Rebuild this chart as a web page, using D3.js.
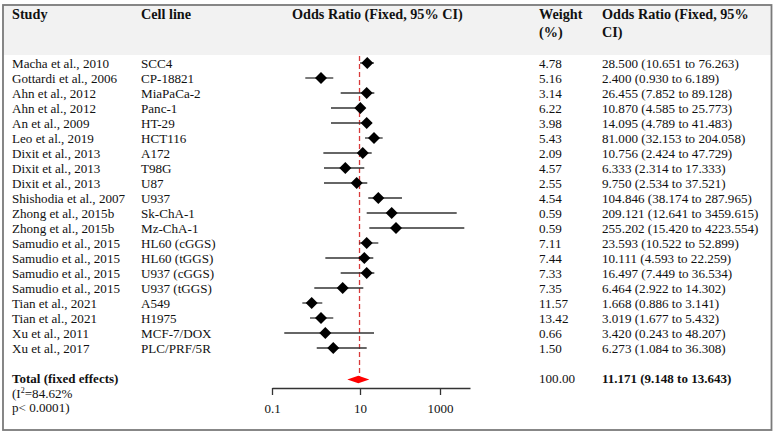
<!DOCTYPE html>
<html>
<head>
<meta charset="utf-8">
<script src="https://cdn.jsdelivr.net/npm/d3@7"></script>
<style>
  body { margin: 0; background: #fff; }
  svg text { font-family: "Liberation Serif", "Times New Roman", serif; fill: #111; }
</style>
</head>
<body>
<div id="wrapper"></div>
<script>
const studies = ["Macha et al., 2010", "Gottardi et al., 2006", "Ahn et al., 2012", "Ahn et al., 2012",
  "An et al., 2009", "Leo et al., 2019", "Dixit et al., 2013", "Dixit et al., 2013", "Dixit et al., 2013",
  "Shishodia et al., 2007", "Zhong et al., 2015b", "Zhong et al., 2015b", "Samudio et al., 2015",
  "Samudio et al., 2015", "Samudio et al., 2015", "Samudio et al., 2015", "Tian et al., 2021",
  "Tian et al., 2021", "Xu et al., 2011", "Xu et al., 2017"]
const cellLines = ["SCC4", "CP-18821", "MiaPaCa-2", "Panc-1", "HT-29", "HCT116", "A172", "T98G", "U87",
  "U937", "Sk-ChA-1", "Mz-ChA-1", "HL60 (cGGS)", "HL60 (tGGS)", "U937 (cGGS)", "U937 (tGGS)",
  "A549", "H1975", "MCF-7/DOX", "PLC/PRF/5R"]
const weights = ["4.78", "5.16", "3.14", "6.22", "3.98", "5.43", "2.09", "4.57", "2.55", "4.54", "0.59",
  "0.59", "7.11", "7.44", "7.33", "7.35", "11.57", "13.42", "0.66", "1.50"]
const orLabels = ["28.500 (10.651 to 76.263)", "2.400 (0.930 to 6.189)", "26.455 (7.852 to 89.128)",
  "10.870 (4.585 to 25.773)", "14.095 (4.789 to 41.483)", "81.000 (32.153 to 204.058)",
  "10.756 (2.424 to 47.729)", "6.333 (2.314 to 17.333)", "9.750 (2.534 to 37.521)",
  "104.846 (38.174 to 287.965)", "209.121 (12.641 to 3459.615)", "255.202 (15.420 to 4223.554)",
  "23.593 (10.522 to 52.899)", "10.111 (4.593 to 22.259)", "16.497 (7.449 to 36.534)",
  "6.464 (2.922 to 14.302)", "1.668 (0.886 to 3.141)", "3.019 (1.677 to 5.432)",
  "3.420 (0.243 to 48.207)", "6.273 (1.084 to 36.308)"]

// where the markers sit, read against the drawn axis
const plotEst = [15.2, 1.30, 14.7, 10.2, 14.7, 22.4, 11.7, 4.63, 8.41, 28.7, 62, 79.4, 14.7, 12.8, 14.7, 4.04, 0.798, 1.30, 1.63, 2.47]
const plotLo = [10, 0.571, 3.64, 2.19, 2.19, 13.3, 1.47, 1.52, 1.52, 16.1, 14.7, 17.1, 9.6, 1.63, 3.64, 0.915, 0.489, 0.731, 0.190, 1.04]
const plotHi = [22.4, 2.47, 22.8, 13.3, 19.6, 36.9, 19.6, 12.8, 15.2, 112, 2615, 4050, 28.7, 21.5, 22.8, 12.1, 1.39, 2.47, 22.4, 14.7]

const totalPlot = [5.14, 9.15, 17.1]  // lo, est, hi
const refValue = 9.75
const axisTicks = [0.1, 10, 1000]

const W = 775, H = 435
const svg = d3.select('#wrapper').append('svg').attr('width', W).attr('height', H)

// frame + header band
svg.append('rect').attr('x', 3).attr('y', 5).attr('width', 768).attr('height', 50).attr('fill', '#f2f2f2')
svg.append('rect').attr('x', 3).attr('y', 5).attr('width', 768.5).attr('height', 425)
  .attr('fill', 'none').attr('stroke', '#7a7a7a').attr('stroke-width', 1.8)

const xScale = d3.scaleLog()
  .domain([0.1, 10, 1000, 5620])
  .range([272, 360, 440, 470])

const yScale = d3.scalePoint()
  .domain(d3.range(studies.length))
  .range([63, 348])

const col = { study: 12, cell: 141, plot: 292, weight: 539, or: 602 }

// header
const head = svg.append('g').attr('font-weight', 'bold').attr('font-size', 14.2)
head.append('text').attr('x', col.study).attr('y', 19).text('Study')
head.append('text').attr('x', col.cell).attr('y', 19).text('Cell line')
head.append('text').attr('x', col.plot).attr('y', 19).text('Odds Ratio (Fixed, 95% CI)')
head.append('text').attr('x', col.weight).attr('y', 19).text('Weight')
head.append('text').attr('x', col.weight).attr('y', 37).text('(%)')
head.append('text').attr('x', col.or).attr('y', 19).text('Odds Ratio (Fixed, 95%')
head.append('text').attr('x', col.or).attr('y', 37).text('CI)')

// table rows
const rows = svg.append('g').attr('font-size', 13.1)
  .selectAll('g').data(studies).enter().append('g')
  .attr('transform', (d, i) => `translate(0, ${yScale(i) + 4.5})`)
rows.append('text').attr('x', col.study).text(d => d)
rows.append('text').attr('x', col.cell).text((d, i) => cellLines[i])
rows.append('text').attr('x', col.weight).text((d, i) => weights[i])
rows.append('text').attr('x', col.or).text((d, i) => orLabels[i])

// reference line
svg.append('line')
  .attr('x1', xScale(refValue)).attr('x2', xScale(refValue))
  .attr('y1', 56).attr('y2', 377)
  .attr('stroke', '#d83a3a').attr('stroke-width', 1.3).attr('stroke-dasharray', '5,3')

// CIs and points
const plot = svg.append('g')
plot.selectAll('line.ci').data(studies).enter().append('line')
  .attr('class', 'ci')
  .attr('x1', (d, i) => xScale(plotLo[i]))
  .attr('x2', (d, i) => xScale(plotHi[i]))
  .attr('y1', (d, i) => yScale(i)).attr('y2', (d, i) => yScale(i))
  .attr('stroke', '#333').attr('stroke-width', 1.3)

const diamond = (cx, cy, rx, ry) => `M${cx - rx},${cy}L${cx},${cy - ry}L${cx + rx},${cy}L${cx},${cy + ry}Z`
plot.selectAll('path.pt').data(studies).enter().append('path')
  .attr('class', 'pt')
  .attr('d', (d, i) => diamond(xScale(plotEst[i]), yScale(i), 6, 6))
  .attr('fill', '#000')

// total
const totalY = 379.5
svg.append('path')
  .attr('d', `M${xScale(totalPlot[0])},${totalY}L${xScale(totalPlot[1])},${totalY - 3.8}L${xScale(totalPlot[2])},${totalY}L${xScale(totalPlot[1])},${totalY + 3.8}Z`)
  .attr('fill', '#f00')

const tot = svg.append('g').attr('font-size', 13.1)
tot.append('text').attr('x', col.study).attr('y', 383).attr('font-weight', 'bold').attr('font-size', 13).text('Total (fixed effects)')
const i2 = tot.append('text').attr('x', col.study).attr('y', 397.5)
i2.append('tspan').text('(I')
i2.append('tspan').attr('font-size', 8).attr('dy', -5).text('2')
i2.append('tspan').attr('dy', 5).text('=84.62%')
tot.append('text').attr('x', col.study).attr('y', 412).text('p< 0.0001)')
tot.append('text').attr('x', col.weight).attr('y', 383).text('100.00')
tot.append('text').attr('x', col.or).attr('y', 383).attr('font-weight', 'bold').attr('font-size', 13).text('11.171 (9.148 to 13.643)')

// axis
const xAxis = d3.axisBottom(xScale)
  .tickValues(axisTicks)
  .tickFormat(d => d)
  .tickSize(7)
  .tickSizeOuter(0)
  .tickPadding(9)
const ax = svg.append('g').attr('transform', 'translate(0, 388)').call(xAxis)
ax.select('.domain').attr('stroke', '#333').attr('stroke-width', 1.3)
ax.selectAll('.tick line').attr('stroke', '#333').attr('stroke-width', 1.3)
ax.selectAll('.tick text').attr('font-size', 13).attr('font-family', '"Liberation Serif", serif').attr('fill', '#111')
</script>
</body>
</html>
